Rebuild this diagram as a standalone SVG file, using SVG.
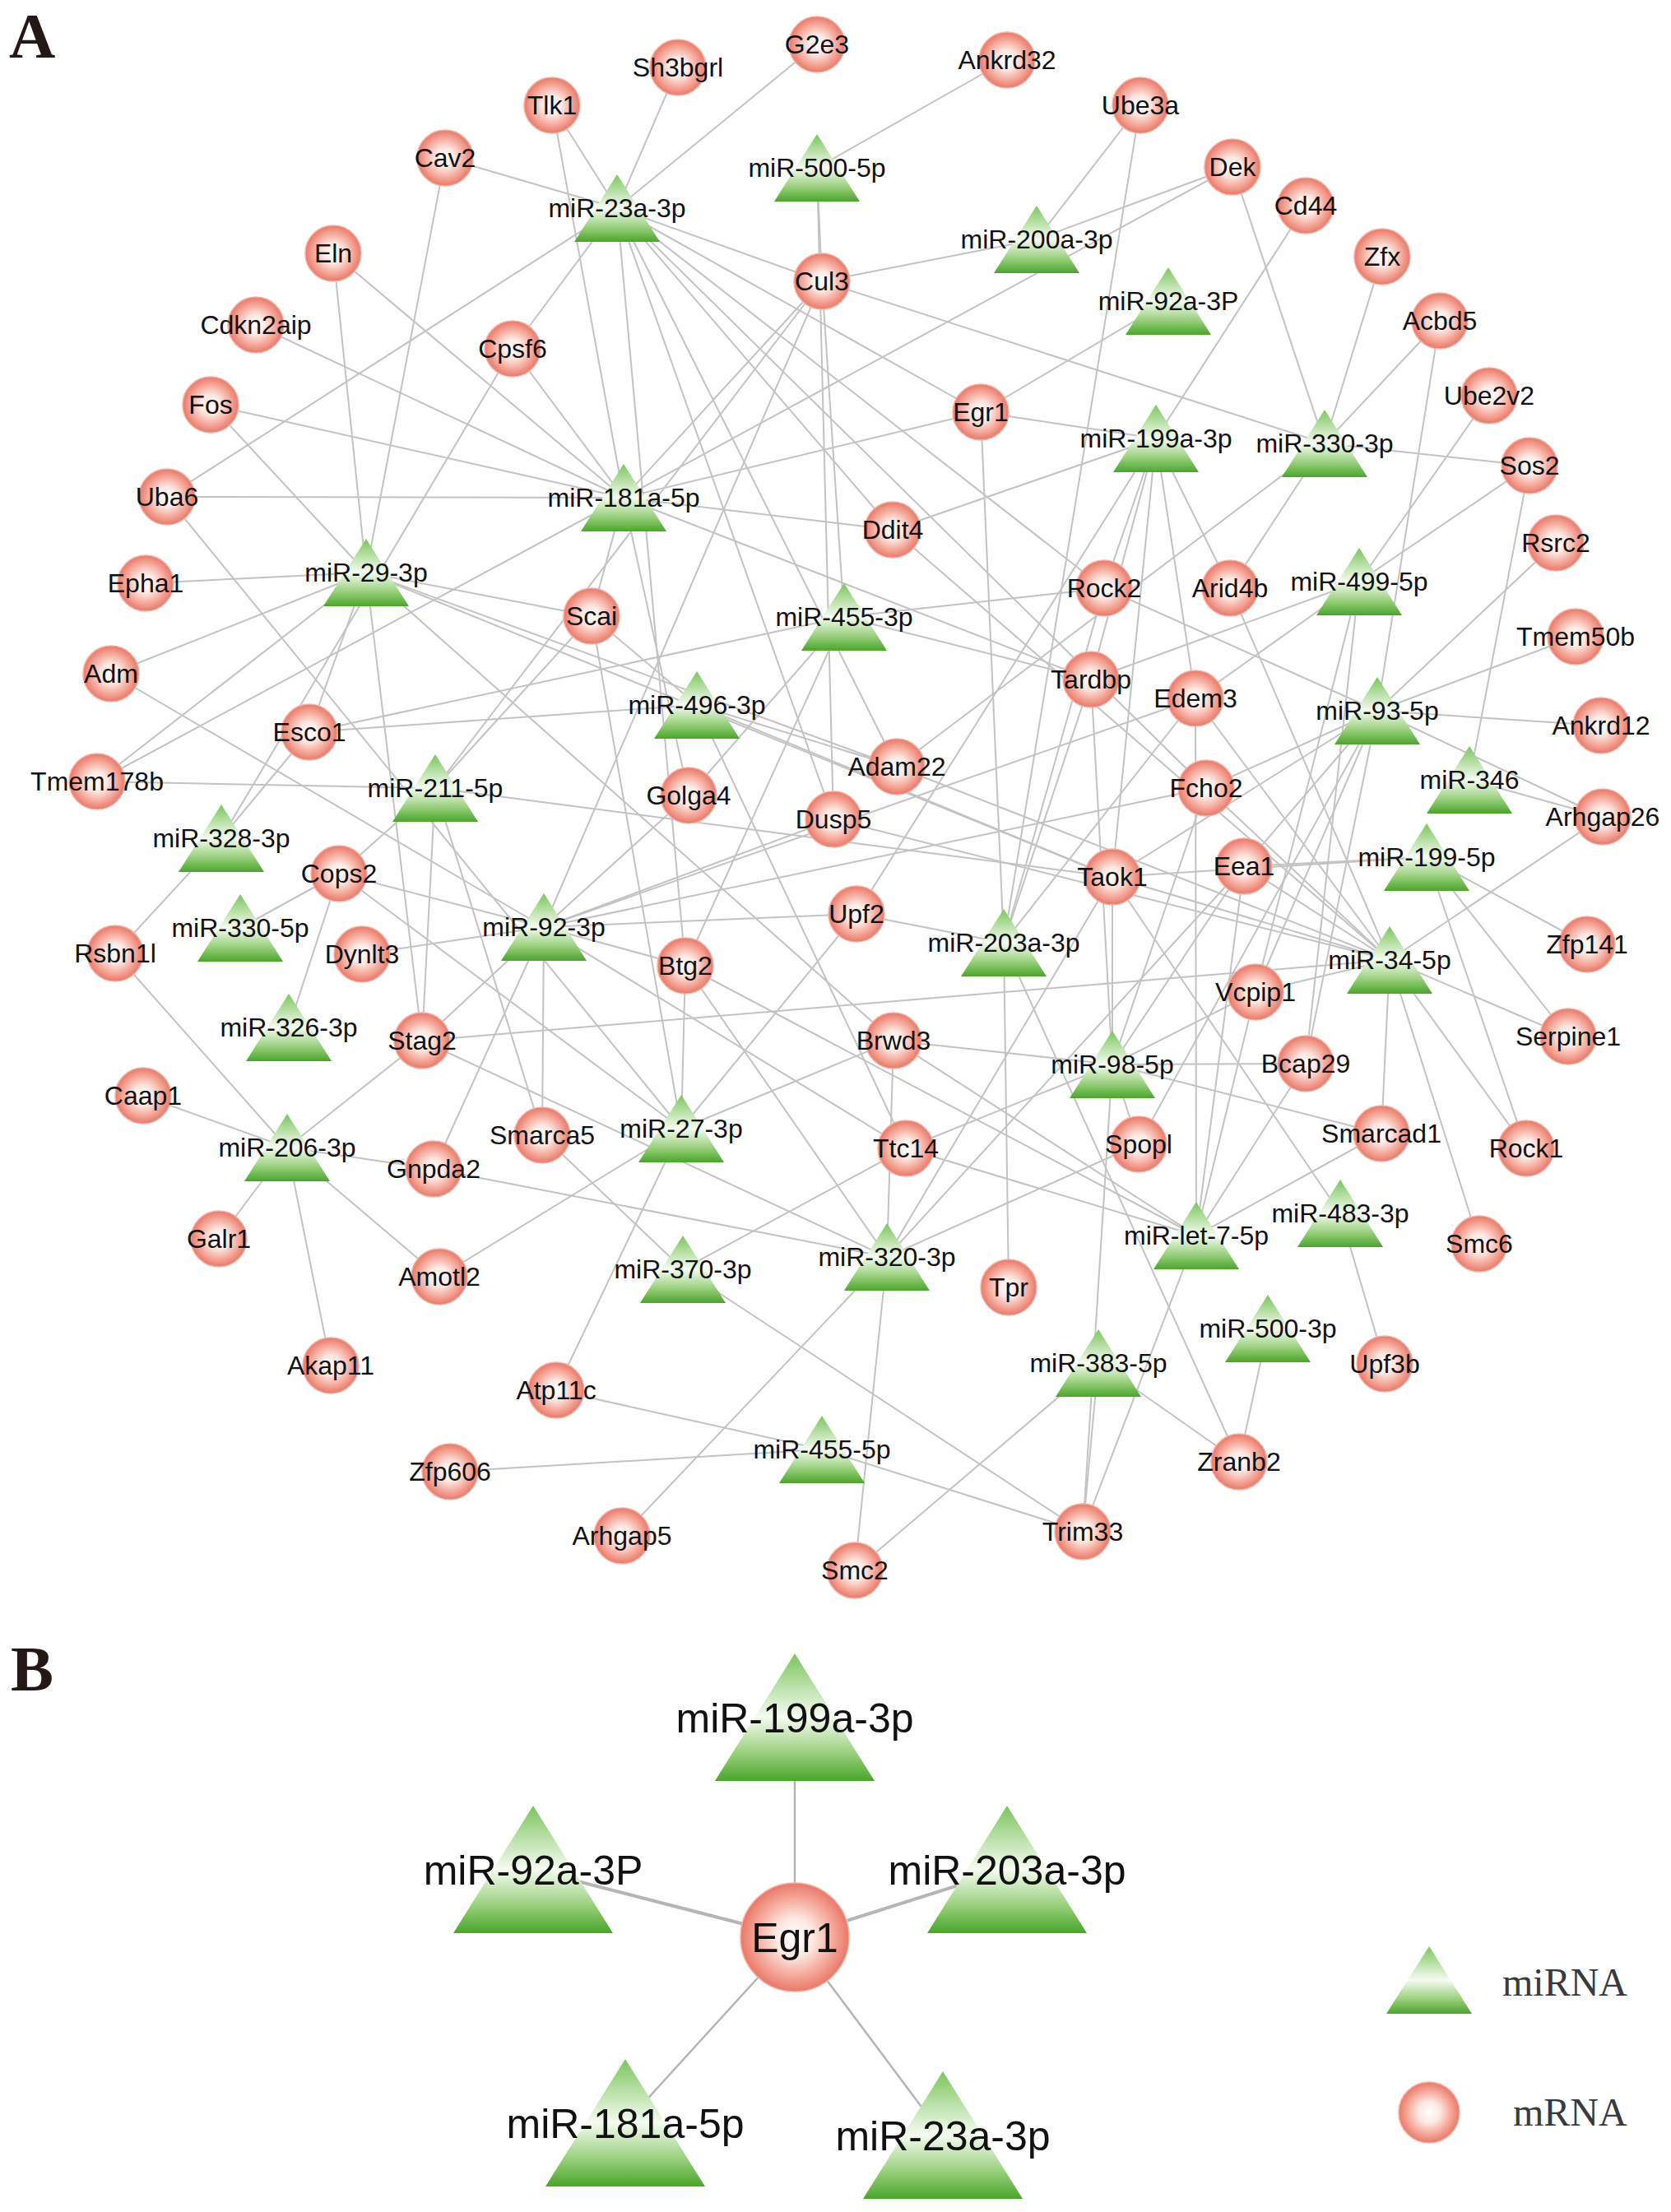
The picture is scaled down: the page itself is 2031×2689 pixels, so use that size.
<svg xmlns="http://www.w3.org/2000/svg" xmlns:xlink="http://www.w3.org/1999/xlink" width="2031" height="2689" viewBox="0 0 2031 2689">
<defs>
<radialGradient id="gc" cx="50%" cy="50%" r="50%">
<stop offset="0" stop-color="#ffffff"/>
<stop offset="0.35" stop-color="#fde8e2"/>
<stop offset="0.75" stop-color="#f4a293"/>
<stop offset="1" stop-color="#e8786a"/>
</radialGradient>
<linearGradient id="gt" x1="0" y1="0" x2="0" y2="1">
<stop offset="0" stop-color="#7cc45c"/>
<stop offset="0.5" stop-color="#f5fbf1"/>
<stop offset="0.78" stop-color="#9ad07e"/>
<stop offset="1" stop-color="#4aa52a"/>
</linearGradient>
<path id="tri" d="M0,-41 L52,41 L-52,41 Z"/>
<path id="triB" d="M0,-78 L97,77 L-97,77 Z"/>
</defs>
<style>
.e line{stroke:#c3c3c3;stroke-width:2}
.eb line{stroke:#b5b5b5}
.m{fill:url(#gc);stroke:#f0b2a5;stroke-width:1.5}
.r{fill:url(#gt)}
text{font-family:"Liberation Sans",Arial,sans-serif;fill:#111}
.t{font-size:32px;text-anchor:middle}
.tb{font-size:50px;text-anchor:middle}
.pl{font-family:"Liberation Serif","Times New Roman",serif;font-weight:bold;font-size:78px;fill:#231815}
.lg{font-family:"Liberation Serif","Times New Roman",serif;font-size:48px;fill:#3a3a3a}
</style>
<rect width="2031" height="2689" fill="#ffffff"/>
<text class="pl" x="11" y="70">A</text>
<text class="pl" x="13" y="2055">B</text>
<g id="edges" class="e">
<line x1="750" y1="253" x2="671" y2="128"/><line x1="750" y1="253" x2="824" y2="82"/><line x1="750" y1="253" x2="993" y2="54"/><line x1="750" y1="253" x2="541" y2="192"/><line x1="750" y1="253" x2="203" y2="604"/><line x1="750" y1="253" x2="623" y2="424"/><line x1="750" y1="253" x2="999" y2="342"/><line x1="750" y1="253" x2="1192" y2="501"/><line x1="750" y1="253" x2="1342" y2="715"/><line x1="750" y1="253" x2="1085" y2="644"/><line x1="750" y1="253" x2="1090" y2="932"/><line x1="750" y1="253" x2="833" y2="1174"/><line x1="750" y1="253" x2="1466" y2="958"/><line x1="750" y1="253" x2="1013" y2="996"/>
<line x1="993" y1="204" x2="1224" y2="73"/><line x1="993" y1="204" x2="999" y2="342"/><line x1="993" y1="204" x2="1013" y2="996"/>
<line x1="1260" y1="291" x2="1386" y2="128"/><line x1="1260" y1="291" x2="1498" y2="203"/><line x1="1260" y1="291" x2="999" y2="342"/>
<line x1="1420" y1="366" x2="1192" y2="501"/>
<line x1="1405" y1="533" x2="1587" y2="250"/><line x1="1405" y1="533" x2="1192" y2="501"/><line x1="1405" y1="533" x2="1085" y2="644"/><line x1="1405" y1="533" x2="1041" y2="1111"/><line x1="1405" y1="533" x2="1342" y2="715"/><line x1="1405" y1="533" x2="1352" y2="1066"/><line x1="1405" y1="533" x2="1453" y2="849"/><line x1="1405" y1="533" x2="1495" y2="715"/><line x1="1405" y1="533" x2="1326" y2="826"/>
<line x1="1610" y1="539" x2="1498" y2="203"/><line x1="1610" y1="539" x2="1680" y2="312"/><line x1="1610" y1="539" x2="1750" y2="390"/><line x1="1610" y1="539" x2="1859" y2="566"/><line x1="1610" y1="539" x2="999" y2="342"/><line x1="1610" y1="539" x2="1090" y2="932"/><line x1="1610" y1="539" x2="1495" y2="715"/>
<line x1="758" y1="605" x2="671" y2="128"/><line x1="758" y1="605" x2="405" y2="308"/><line x1="758" y1="605" x2="311" y2="395"/><line x1="758" y1="605" x2="256" y2="492"/><line x1="758" y1="605" x2="203" y2="604"/><line x1="758" y1="605" x2="118" y2="950"/><line x1="758" y1="605" x2="623" y2="424"/><line x1="758" y1="605" x2="999" y2="342"/><line x1="758" y1="605" x2="1192" y2="501"/><line x1="758" y1="605" x2="1085" y2="644"/><line x1="758" y1="605" x2="1498" y2="203"/><line x1="758" y1="605" x2="719" y2="749"/><line x1="758" y1="605" x2="837" y2="967"/><line x1="758" y1="605" x2="1326" y2="826"/>
<line x1="445" y1="696" x2="541" y2="192"/><line x1="445" y1="696" x2="405" y2="308"/><line x1="445" y1="696" x2="256" y2="492"/><line x1="445" y1="696" x2="177" y2="709"/><line x1="445" y1="696" x2="135" y2="819"/><line x1="445" y1="696" x2="118" y2="950"/><line x1="445" y1="696" x2="376" y2="890"/><line x1="445" y1="696" x2="719" y2="749"/><line x1="445" y1="696" x2="513" y2="1265"/><line x1="445" y1="696" x2="1352" y2="1066"/><line x1="445" y1="696" x2="1086" y2="1265"/><line x1="445" y1="696" x2="1090" y2="932"/>
<line x1="1026" y1="750" x2="376" y2="890"/><line x1="1026" y1="750" x2="837" y2="967"/><line x1="1026" y1="750" x2="1342" y2="715"/><line x1="1026" y1="750" x2="1326" y2="826"/><line x1="1026" y1="750" x2="833" y2="1174"/><line x1="1026" y1="750" x2="999" y2="342"/>
<line x1="1652" y1="707" x2="1810" y2="481"/><line x1="1652" y1="707" x2="1859" y2="566"/><line x1="1652" y1="707" x2="1453" y2="849"/><line x1="1652" y1="707" x2="1326" y2="826"/><line x1="1652" y1="707" x2="1526" y2="1206"/><line x1="1652" y1="707" x2="1587" y2="1293"/>
<line x1="847" y1="857" x2="376" y2="890"/><line x1="847" y1="857" x2="1090" y2="932"/><line x1="847" y1="857" x2="719" y2="749"/><line x1="847" y1="857" x2="1101" y2="1396"/><line x1="847" y1="857" x2="1352" y2="1066"/>
<line x1="1674" y1="864" x2="1750" y2="390"/><line x1="1674" y1="864" x2="1891" y2="660"/><line x1="1674" y1="864" x2="1915" y2="774"/><line x1="1674" y1="864" x2="1946" y2="882"/><line x1="1674" y1="864" x2="1948" y2="993"/><line x1="1674" y1="864" x2="1342" y2="715"/><line x1="1674" y1="864" x2="1466" y2="958"/><line x1="1674" y1="864" x2="1512" y2="1053"/><line x1="1674" y1="864" x2="1526" y2="1206"/><line x1="1674" y1="864" x2="1587" y2="1293"/><line x1="1674" y1="864" x2="1352" y2="1066"/><line x1="1674" y1="864" x2="1384" y2="1391"/>
<line x1="529" y1="958" x2="118" y2="950"/><line x1="529" y1="958" x2="412" y2="1062"/><line x1="529" y1="958" x2="513" y2="1265"/><line x1="529" y1="958" x2="659" y2="1380"/><line x1="529" y1="958" x2="1352" y2="1066"/><line x1="529" y1="958" x2="999" y2="342"/><line x1="529" y1="958" x2="719" y2="749"/>
<line x1="1786" y1="948" x2="1859" y2="566"/><line x1="1786" y1="948" x2="1948" y2="993"/>
<line x1="269" y1="1019" x2="376" y2="890"/><line x1="269" y1="1019" x2="140" y2="1159"/><line x1="269" y1="1019" x2="623" y2="424"/>
<line x1="1734" y1="1042" x2="1929" y2="1148"/><line x1="1734" y1="1042" x2="1906" y2="1260"/><line x1="1734" y1="1042" x2="1855" y2="1396"/><line x1="1734" y1="1042" x2="1512" y2="1053"/><line x1="1734" y1="1042" x2="1352" y2="1066"/>
<line x1="292" y1="1128" x2="412" y2="1062"/>
<line x1="661" y1="1127" x2="135" y2="819"/><line x1="661" y1="1127" x2="412" y2="1062"/><line x1="661" y1="1127" x2="440" y2="1160"/><line x1="661" y1="1127" x2="513" y2="1265"/><line x1="661" y1="1127" x2="659" y2="1380"/><line x1="661" y1="1127" x2="527" y2="1421"/><line x1="661" y1="1127" x2="837" y2="967"/><line x1="661" y1="1127" x2="1013" y2="996"/><line x1="661" y1="1127" x2="1041" y2="1111"/><line x1="661" y1="1127" x2="833" y2="1174"/><line x1="661" y1="1127" x2="1101" y2="1396"/><line x1="661" y1="1127" x2="1466" y2="958"/><line x1="661" y1="1127" x2="999" y2="342"/><line x1="661" y1="1127" x2="1453" y2="849"/>
<line x1="1220" y1="1146" x2="1192" y2="501"/><line x1="1220" y1="1146" x2="1386" y2="128"/><line x1="1220" y1="1146" x2="1041" y2="1111"/><line x1="1220" y1="1146" x2="1226" y2="1565"/><line x1="1220" y1="1146" x2="1506" y2="1777"/><line x1="1220" y1="1146" x2="1453" y2="849"/><line x1="1220" y1="1146" x2="1326" y2="826"/><line x1="1220" y1="1146" x2="1342" y2="715"/>
<line x1="1689" y1="1167" x2="1948" y2="993"/><line x1="1689" y1="1167" x2="1906" y2="1260"/><line x1="1689" y1="1167" x2="1855" y2="1396"/><line x1="1689" y1="1167" x2="1798" y2="1512"/><line x1="1689" y1="1167" x2="1679" y2="1378"/><line x1="1689" y1="1167" x2="1526" y2="1206"/><line x1="1689" y1="1167" x2="1512" y2="1053"/><line x1="1689" y1="1167" x2="1466" y2="958"/><line x1="1689" y1="1167" x2="1453" y2="849"/><line x1="1689" y1="1167" x2="1495" y2="715"/><line x1="1689" y1="1167" x2="1352" y2="1066"/><line x1="1689" y1="1167" x2="513" y2="1265"/><line x1="1689" y1="1167" x2="1090" y2="932"/><line x1="1689" y1="1167" x2="1013" y2="996"/><line x1="1689" y1="1167" x2="1085" y2="644"/>
<line x1="351" y1="1249" x2="412" y2="1062"/>
<line x1="1352" y1="1294" x2="1352" y2="1066"/><line x1="1352" y1="1294" x2="1512" y2="1053"/><line x1="1352" y1="1294" x2="1466" y2="958"/><line x1="1352" y1="1294" x2="1526" y2="1206"/><line x1="1352" y1="1294" x2="1326" y2="826"/><line x1="1352" y1="1294" x2="1086" y2="1265"/><line x1="1352" y1="1294" x2="1101" y2="1396"/><line x1="1352" y1="1294" x2="1587" y2="1293"/><line x1="1352" y1="1294" x2="1679" y2="1378"/><line x1="1352" y1="1294" x2="1384" y2="1391"/><line x1="1352" y1="1294" x2="1316" y2="1862"/>
<line x1="349" y1="1395" x2="174" y2="1332"/><line x1="349" y1="1395" x2="266" y2="1506"/><line x1="349" y1="1395" x2="402" y2="1660"/><line x1="349" y1="1395" x2="534" y2="1552"/><line x1="349" y1="1395" x2="527" y2="1421"/><line x1="349" y1="1395" x2="513" y2="1265"/><line x1="349" y1="1395" x2="140" y2="1159"/>
<line x1="828" y1="1372" x2="676" y2="1690"/><line x1="828" y1="1372" x2="534" y2="1552"/><line x1="828" y1="1372" x2="833" y2="1174"/><line x1="828" y1="1372" x2="1086" y2="1265"/><line x1="828" y1="1372" x2="719" y2="749"/><line x1="828" y1="1372" x2="1041" y2="1111"/><line x1="828" y1="1372" x2="203" y2="604"/><line x1="828" y1="1372" x2="412" y2="1062"/>
<line x1="1629" y1="1475" x2="1683" y2="1658"/><line x1="1629" y1="1475" x2="1352" y2="1066"/>
<line x1="1454" y1="1502" x2="1679" y2="1378"/><line x1="1454" y1="1502" x2="1316" y2="1862"/><line x1="1454" y1="1502" x2="1587" y2="1293"/><line x1="1454" y1="1502" x2="1526" y2="1206"/><line x1="1454" y1="1502" x2="1512" y2="1053"/><line x1="1454" y1="1502" x2="1453" y2="849"/><line x1="1454" y1="1502" x2="833" y2="1174"/><line x1="1454" y1="1502" x2="1086" y2="1265"/><line x1="1454" y1="1502" x2="1101" y2="1396"/>
<line x1="830" y1="1543" x2="1316" y2="1862"/><line x1="830" y1="1543" x2="1101" y2="1396"/><line x1="830" y1="1543" x2="659" y2="1380"/>
<line x1="1078" y1="1528" x2="756" y2="1867"/><line x1="1078" y1="1528" x2="1039" y2="1909"/><line x1="1078" y1="1528" x2="527" y2="1421"/><line x1="1078" y1="1528" x2="513" y2="1265"/><line x1="1078" y1="1528" x2="1086" y2="1265"/><line x1="1078" y1="1528" x2="1384" y2="1391"/><line x1="1078" y1="1528" x2="1352" y2="1066"/><line x1="1078" y1="1528" x2="1512" y2="1053"/><line x1="1078" y1="1528" x2="833" y2="1174"/>
<line x1="1541" y1="1615" x2="1506" y2="1777"/>
<line x1="1335" y1="1657" x2="1506" y2="1777"/><line x1="1335" y1="1657" x2="1316" y2="1862"/><line x1="1335" y1="1657" x2="1039" y2="1909"/>
<line x1="999" y1="1762" x2="547" y2="1789"/><line x1="999" y1="1762" x2="676" y2="1690"/><line x1="999" y1="1762" x2="1316" y2="1862"/>
</g>
<g id="edges-b" class="eb">
<line x1="966" y1="2355" x2="966" y2="2088" stroke-width="2.5"/>
<line x1="966" y1="2355" x2="648" y2="2273" stroke-width="4"/>
<line x1="966" y1="2355" x2="1224" y2="2273" stroke-width="4"/>
<line x1="966" y1="2355" x2="760" y2="2581" stroke-width="2.5"/>
<line x1="966" y1="2355" x2="1146" y2="2596" stroke-width="2.5"/>
</g>
<g id="mirna">
<g id="miR-23a-3p"><use href="#tri" x="750" y="253" class="r"/><text class="t" x="750" y="264">miR-23a-3p</text></g>
<g id="miR-500-5p"><use href="#tri" x="993" y="204" class="r"/><text class="t" x="993" y="215">miR-500-5p</text></g>
<g id="miR-200a-3p"><use href="#tri" x="1260" y="291" class="r"/><text class="t" x="1260" y="302">miR-200a-3p</text></g>
<g id="miR-92a-3P"><use href="#tri" x="1420" y="366" class="r"/><text class="t" x="1420" y="377">miR-92a-3P</text></g>
<g id="miR-199a-3p"><use href="#tri" x="1405" y="533" class="r"/><text class="t" x="1405" y="544">miR-199a-3p</text></g>
<g id="miR-330-3p"><use href="#tri" x="1610" y="539" class="r"/><text class="t" x="1610" y="550">miR-330-3p</text></g>
<g id="miR-181a-5p"><use href="#tri" x="758" y="605" class="r"/><text class="t" x="758" y="616">miR-181a-5p</text></g>
<g id="miR-29-3p"><use href="#tri" x="445" y="696" class="r"/><text class="t" x="445" y="707">miR-29-3p</text></g>
<g id="miR-455-3p"><use href="#tri" x="1026" y="750" class="r"/><text class="t" x="1026" y="761">miR-455-3p</text></g>
<g id="miR-499-5p"><use href="#tri" x="1652" y="707" class="r"/><text class="t" x="1652" y="718">miR-499-5p</text></g>
<g id="miR-496-3p"><use href="#tri" x="847" y="857" class="r"/><text class="t" x="847" y="868">miR-496-3p</text></g>
<g id="miR-93-5p"><use href="#tri" x="1674" y="864" class="r"/><text class="t" x="1674" y="875">miR-93-5p</text></g>
<g id="miR-211-5p"><use href="#tri" x="529" y="958" class="r"/><text class="t" x="529" y="969">miR-211-5p</text></g>
<g id="miR-346"><use href="#tri" x="1786" y="948" class="r"/><text class="t" x="1786" y="959">miR-346</text></g>
<g id="miR-328-3p"><use href="#tri" x="269" y="1019" class="r"/><text class="t" x="269" y="1030">miR-328-3p</text></g>
<g id="miR-199-5p"><use href="#tri" x="1734" y="1042" class="r"/><text class="t" x="1734" y="1053">miR-199-5p</text></g>
<g id="miR-330-5p"><use href="#tri" x="292" y="1128" class="r"/><text class="t" x="292" y="1139">miR-330-5p</text></g>
<g id="miR-92-3p"><use href="#tri" x="661" y="1127" class="r"/><text class="t" x="661" y="1138">miR-92-3p</text></g>
<g id="miR-203a-3p"><use href="#tri" x="1220" y="1146" class="r"/><text class="t" x="1220" y="1157">miR-203a-3p</text></g>
<g id="miR-34-5p"><use href="#tri" x="1689" y="1167" class="r"/><text class="t" x="1689" y="1178">miR-34-5p</text></g>
<g id="miR-326-3p"><use href="#tri" x="351" y="1249" class="r"/><text class="t" x="351" y="1260">miR-326-3p</text></g>
<g id="miR-98-5p"><use href="#tri" x="1352" y="1294" class="r"/><text class="t" x="1352" y="1305">miR-98-5p</text></g>
<g id="miR-206-3p"><use href="#tri" x="349" y="1395" class="r"/><text class="t" x="349" y="1406">miR-206-3p</text></g>
<g id="miR-27-3p"><use href="#tri" x="828" y="1372" class="r"/><text class="t" x="828" y="1383">miR-27-3p</text></g>
<g id="miR-483-3p"><use href="#tri" x="1629" y="1475" class="r"/><text class="t" x="1629" y="1486">miR-483-3p</text></g>
<g id="miR-let-7-5p"><use href="#tri" x="1454" y="1502" class="r"/><text class="t" x="1454" y="1513">miR-let-7-5p</text></g>
<g id="miR-370-3p"><use href="#tri" x="830" y="1543" class="r"/><text class="t" x="830" y="1554">miR-370-3p</text></g>
<g id="miR-320-3p"><use href="#tri" x="1078" y="1528" class="r"/><text class="t" x="1078" y="1539">miR-320-3p</text></g>
<g id="miR-500-3p"><use href="#tri" x="1541" y="1615" class="r"/><text class="t" x="1541" y="1626">miR-500-3p</text></g>
<g id="miR-383-5p"><use href="#tri" x="1335" y="1657" class="r"/><text class="t" x="1335" y="1668">miR-383-5p</text></g>
<g id="miR-455-5p"><use href="#tri" x="999" y="1762" class="r"/><text class="t" x="999" y="1773">miR-455-5p</text></g>
</g>
<g id="mrna">
<g id="Tlk1"><circle class="m" cx="671" cy="128" r="34"/><text class="t" x="671" y="139">Tlk1</text></g>
<g id="Sh3bgrl"><circle class="m" cx="824" cy="82" r="34"/><text class="t" x="824" y="93">Sh3bgrl</text></g>
<g id="G2e3"><circle class="m" cx="993" cy="54" r="34"/><text class="t" x="993" y="65">G2e3</text></g>
<g id="Ankrd32"><circle class="m" cx="1224" cy="73" r="34"/><text class="t" x="1224" y="84">Ankrd32</text></g>
<g id="Ube3a"><circle class="m" cx="1386" cy="128" r="34"/><text class="t" x="1386" y="139">Ube3a</text></g>
<g id="Dek"><circle class="m" cx="1498" cy="203" r="34"/><text class="t" x="1498" y="214">Dek</text></g>
<g id="Cd44"><circle class="m" cx="1587" cy="250" r="34"/><text class="t" x="1587" y="261">Cd44</text></g>
<g id="Zfx"><circle class="m" cx="1680" cy="312" r="34"/><text class="t" x="1680" y="323">Zfx</text></g>
<g id="Acbd5"><circle class="m" cx="1750" cy="390" r="34"/><text class="t" x="1750" y="401">Acbd5</text></g>
<g id="Ube2v2"><circle class="m" cx="1810" cy="481" r="34"/><text class="t" x="1810" y="492">Ube2v2</text></g>
<g id="Sos2"><circle class="m" cx="1859" cy="566" r="34"/><text class="t" x="1859" y="577">Sos2</text></g>
<g id="Rsrc2"><circle class="m" cx="1891" cy="660" r="34"/><text class="t" x="1891" y="671">Rsrc2</text></g>
<g id="Tmem50b"><circle class="m" cx="1915" cy="774" r="34"/><text class="t" x="1915" y="785">Tmem50b</text></g>
<g id="Ankrd12"><circle class="m" cx="1946" cy="882" r="34"/><text class="t" x="1946" y="893">Ankrd12</text></g>
<g id="Arhgap26"><circle class="m" cx="1948" cy="993" r="34"/><text class="t" x="1948" y="1004">Arhgap26</text></g>
<g id="Zfp141"><circle class="m" cx="1929" cy="1148" r="34"/><text class="t" x="1929" y="1159">Zfp141</text></g>
<g id="Serpine1"><circle class="m" cx="1906" cy="1260" r="34"/><text class="t" x="1906" y="1271">Serpine1</text></g>
<g id="Rock1"><circle class="m" cx="1855" cy="1396" r="34"/><text class="t" x="1855" y="1407">Rock1</text></g>
<g id="Smc6"><circle class="m" cx="1798" cy="1512" r="34"/><text class="t" x="1798" y="1523">Smc6</text></g>
<g id="Upf3b"><circle class="m" cx="1683" cy="1658" r="34"/><text class="t" x="1683" y="1669">Upf3b</text></g>
<g id="Zranb2"><circle class="m" cx="1506" cy="1777" r="34"/><text class="t" x="1506" y="1788">Zranb2</text></g>
<g id="Trim33"><circle class="m" cx="1316" cy="1862" r="34"/><text class="t" x="1316" y="1873">Trim33</text></g>
<g id="Smc2"><circle class="m" cx="1039" cy="1909" r="34"/><text class="t" x="1039" y="1920">Smc2</text></g>
<g id="Arhgap5"><circle class="m" cx="756" cy="1867" r="34"/><text class="t" x="756" y="1878">Arhgap5</text></g>
<g id="Zfp606"><circle class="m" cx="547" cy="1789" r="34"/><text class="t" x="547" y="1800">Zfp606</text></g>
<g id="Atp11c"><circle class="m" cx="676" cy="1690" r="34"/><text class="t" x="676" y="1701">Atp11c</text></g>
<g id="Akap11"><circle class="m" cx="402" cy="1660" r="34"/><text class="t" x="402" y="1671">Akap11</text></g>
<g id="Galr1"><circle class="m" cx="266" cy="1506" r="34"/><text class="t" x="266" y="1517">Galr1</text></g>
<g id="Caap1"><circle class="m" cx="174" cy="1332" r="34"/><text class="t" x="174" y="1343">Caap1</text></g>
<g id="Rsbn1l"><circle class="m" cx="140" cy="1159" r="34"/><text class="t" x="140" y="1170">Rsbn1l</text></g>
<g id="Tmem178b"><circle class="m" cx="118" cy="950" r="34"/><text class="t" x="118" y="961">Tmem178b</text></g>
<g id="Adm"><circle class="m" cx="135" cy="819" r="34"/><text class="t" x="135" y="830">Adm</text></g>
<g id="Epha1"><circle class="m" cx="177" cy="709" r="34"/><text class="t" x="177" y="720">Epha1</text></g>
<g id="Uba6"><circle class="m" cx="203" cy="604" r="34"/><text class="t" x="203" y="615">Uba6</text></g>
<g id="Fos"><circle class="m" cx="256" cy="492" r="34"/><text class="t" x="256" y="503">Fos</text></g>
<g id="Cdkn2aip"><circle class="m" cx="311" cy="395" r="34"/><text class="t" x="311" y="406">Cdkn2aip</text></g>
<g id="Eln"><circle class="m" cx="405" cy="308" r="34"/><text class="t" x="405" y="319">Eln</text></g>
<g id="Cav2"><circle class="m" cx="541" cy="192" r="34"/><text class="t" x="541" y="203">Cav2</text></g>
<g id="Cpsf6"><circle class="m" cx="623" cy="424" r="34"/><text class="t" x="623" y="435">Cpsf6</text></g>
<g id="Cul3"><circle class="m" cx="999" cy="342" r="34"/><text class="t" x="999" y="353">Cul3</text></g>
<g id="Egr1"><circle class="m" cx="1192" cy="501" r="34"/><text class="t" x="1192" y="512">Egr1</text></g>
<g id="Ddit4"><circle class="m" cx="1085" cy="644" r="34"/><text class="t" x="1085" y="655">Ddit4</text></g>
<g id="Scai"><circle class="m" cx="719" cy="749" r="34"/><text class="t" x="719" y="760">Scai</text></g>
<g id="Esco1"><circle class="m" cx="376" cy="890" r="34"/><text class="t" x="376" y="901">Esco1</text></g>
<g id="Cops2"><circle class="m" cx="412" cy="1062" r="34"/><text class="t" x="412" y="1073">Cops2</text></g>
<g id="Dynlt3"><circle class="m" cx="440" cy="1160" r="34"/><text class="t" x="440" y="1171">Dynlt3</text></g>
<g id="Stag2"><circle class="m" cx="513" cy="1265" r="34"/><text class="t" x="513" y="1276">Stag2</text></g>
<g id="Smarca5"><circle class="m" cx="659" cy="1380" r="34"/><text class="t" x="659" y="1391">Smarca5</text></g>
<g id="Gnpda2"><circle class="m" cx="527" cy="1421" r="34"/><text class="t" x="527" y="1432">Gnpda2</text></g>
<g id="Amotl2"><circle class="m" cx="534" cy="1552" r="34"/><text class="t" x="534" y="1563">Amotl2</text></g>
<g id="Golga4"><circle class="m" cx="837" cy="967" r="34"/><text class="t" x="837" y="978">Golga4</text></g>
<g id="Dusp5"><circle class="m" cx="1013" cy="996" r="34"/><text class="t" x="1013" y="1007">Dusp5</text></g>
<g id="Adam22"><circle class="m" cx="1090" cy="932" r="34"/><text class="t" x="1090" y="943">Adam22</text></g>
<g id="Upf2"><circle class="m" cx="1041" cy="1111" r="34"/><text class="t" x="1041" y="1122">Upf2</text></g>
<g id="Btg2"><circle class="m" cx="833" cy="1174" r="34"/><text class="t" x="833" y="1185">Btg2</text></g>
<g id="Brwd3"><circle class="m" cx="1086" cy="1265" r="34"/><text class="t" x="1086" y="1276">Brwd3</text></g>
<g id="Ttc14"><circle class="m" cx="1101" cy="1396" r="34"/><text class="t" x="1101" y="1407">Ttc14</text></g>
<g id="Tpr"><circle class="m" cx="1226" cy="1565" r="34"/><text class="t" x="1226" y="1576">Tpr</text></g>
<g id="Spopl"><circle class="m" cx="1384" cy="1391" r="34"/><text class="t" x="1384" y="1402">Spopl</text></g>
<g id="Bcap29"><circle class="m" cx="1587" cy="1293" r="34"/><text class="t" x="1587" y="1304">Bcap29</text></g>
<g id="Smarcad1"><circle class="m" cx="1679" cy="1378" r="34"/><text class="t" x="1679" y="1389">Smarcad1</text></g>
<g id="Vcpip1"><circle class="m" cx="1526" cy="1206" r="34"/><text class="t" x="1526" y="1217">Vcpip1</text></g>
<g id="Eea1"><circle class="m" cx="1512" cy="1053" r="34"/><text class="t" x="1512" y="1064">Eea1</text></g>
<g id="Taok1"><circle class="m" cx="1352" cy="1066" r="34"/><text class="t" x="1352" y="1077">Taok1</text></g>
<g id="Fcho2"><circle class="m" cx="1466" cy="958" r="34"/><text class="t" x="1466" y="969">Fcho2</text></g>
<g id="Edem3"><circle class="m" cx="1453" cy="849" r="34"/><text class="t" x="1453" y="860">Edem3</text></g>
<g id="Tardbp"><circle class="m" cx="1326" cy="826" r="34"/><text class="t" x="1326" y="837">Tardbp</text></g>
<g id="Rock2"><circle class="m" cx="1342" cy="715" r="34"/><text class="t" x="1342" y="726">Rock2</text></g>
<g id="Arid4b"><circle class="m" cx="1495" cy="715" r="34"/><text class="t" x="1495" y="726">Arid4b</text></g>
</g>
<g id="panel-b">
<g id="B-miR-199a-3p"><use href="#triB" x="966" y="2088" class="r"/><text class="tb" x="966" y="2106">miR-199a-3p</text></g>
<g id="B-miR-92a-3P"><use href="#triB" x="648" y="2273" class="r"/><text class="tb" x="648" y="2291">miR-92a-3P</text></g>
<g id="B-miR-203a-3p"><use href="#triB" x="1224" y="2273" class="r"/><text class="tb" x="1224" y="2291">miR-203a-3p</text></g>
<g id="B-miR-181a-5p"><use href="#triB" x="760" y="2581" class="r"/><text class="tb" x="760" y="2599">miR-181a-5p</text></g>
<g id="B-miR-23a-3p"><use href="#triB" x="1146" y="2596" class="r"/><text class="tb" x="1146" y="2614">miR-23a-3p</text></g>
<g id="B-Egr1"><circle class="m" cx="966" cy="2355" r="66"/><text class="tb" x="966" y="2373">Egr1</text></g>
</g>
<g id="legend">
<use href="#tri" x="1737" y="2407" class="r"/>
<text class="lg" x="1826" y="2426">miRNA</text>
<circle class="m" cx="1737" cy="2568" r="37"/>
<text class="lg" x="1839" y="2584">mRNA</text>
</g>
</svg>
